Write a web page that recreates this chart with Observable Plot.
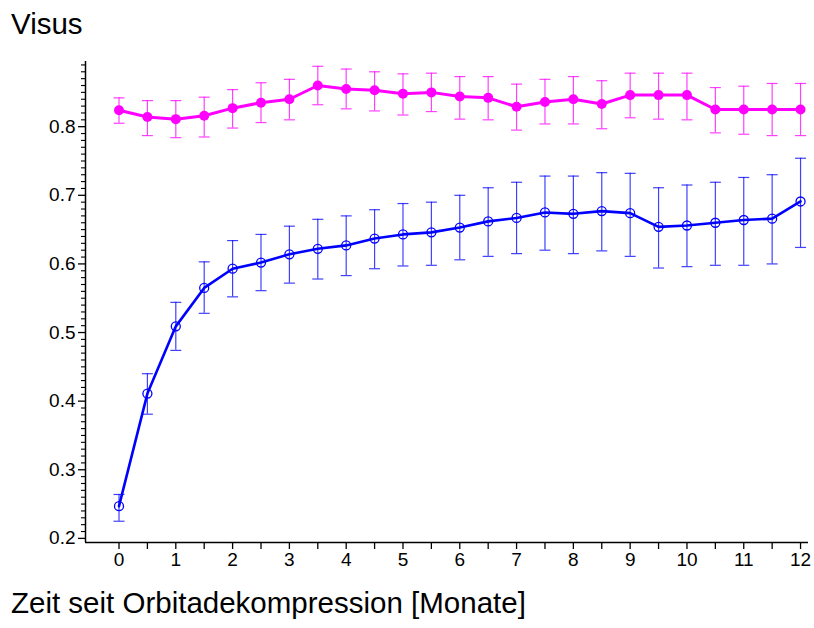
<!DOCTYPE html>
<html>
<head>
<meta charset="utf-8">
<script src="https://cdn.jsdelivr.net/npm/d3@7"></script>
<script src="https://cdn.jsdelivr.net/npm/@observablehq/plot@0.6"></script>
<style>
  html, body { margin: 0; padding: 0; background: #fff; }
  #wrap { position: relative; width: 814px; height: 628px; font-family: "Liberation Sans", Arial, Helvetica, sans-serif; }
  .ttl { position: absolute; left: 11px; font-size: 29.5px; line-height: 1; color: #000; white-space: nowrap; }
  #chart { position: absolute; left: 0; top: 50px; }
</style>
</head>
<body>
<div id="wrap">
  <div class="ttl" style="top:9px">Visus</div>
  <div id="chart"></div>
  <div class="ttl" style="top:588px">Zeit seit Orbitadekompression [Monate]</div>
</div>
<script>
// Months after decompression
const months = [0, 0.5, 1, 1.5, 2, 2.5, 3, 3.5, 4, 4.5, 5, 5.5, 6, 6.5, 7, 7.5, 8, 8.5, 9, 9.5, 10, 10.5, 11, 11.5, 12];

// Upper series (magenta, filled dots): mean with lower/upper error bound
const pinkMean = [0.824, 0.814, 0.811, 0.816, 0.827, 0.835, 0.840, 0.860, 0.855, 0.853, 0.848, 0.850, 0.844, 0.842, 0.829, 0.836, 0.840, 0.833, 0.846, 0.846, 0.846, 0.825, 0.825, 0.825, 0.825];
const pinkHi   = [0.842, 0.838, 0.838, 0.843, 0.854, 0.864, 0.869, 0.888, 0.884, 0.880, 0.877, 0.878, 0.873, 0.873, 0.862, 0.869, 0.873, 0.867, 0.878, 0.878, 0.878, 0.857, 0.859, 0.863, 0.863];
const pinkLo   = [0.805, 0.787, 0.784, 0.785, 0.798, 0.806, 0.810, 0.832, 0.826, 0.823, 0.817, 0.822, 0.811, 0.810, 0.795, 0.804, 0.804, 0.797, 0.813, 0.811, 0.810, 0.791, 0.789, 0.787, 0.787];

// Lower series (blue, open circles)
const blueMean = [0.247, 0.411, 0.509, 0.565, 0.593, 0.602, 0.614, 0.622, 0.627, 0.637, 0.643, 0.646, 0.653, 0.662, 0.667, 0.675, 0.673, 0.677, 0.674, 0.654, 0.656, 0.660, 0.664, 0.666, 0.691];
const blueHi   = [0.264, 0.440, 0.544, 0.603, 0.634, 0.643, 0.655, 0.665, 0.670, 0.679, 0.688, 0.690, 0.700, 0.711, 0.719, 0.728, 0.728, 0.733, 0.732, 0.711, 0.715, 0.719, 0.726, 0.730, 0.754];
const blueLo   = [0.225, 0.381, 0.474, 0.528, 0.552, 0.561, 0.572, 0.578, 0.583, 0.593, 0.597, 0.598, 0.606, 0.611, 0.615, 0.620, 0.615, 0.619, 0.611, 0.594, 0.596, 0.598, 0.598, 0.600, 0.624];

// Axis ticks
const xTicks = [0, 1, 2, 3, 4, 5, 6, 7, 8, 9, 10, 11, 12];
const xMinorTicks = [0.5, 1.5, 2.5, 3.5, 4.5, 5.5, 6.5, 7.5, 8.5, 9.5, 10.5, 11.5];
const yTicks = [0.2, 0.3, 0.4, 0.5, 0.6, 0.7, 0.8];

const xDomain = [-0.59, 12.14];
const yDomain = [0.194, 0.895];
const yMinorTicks = d3.range(20, 90).map(i => i / 100).filter(v => !yTicks.some(t => Math.abs(t - v) < 1e-9));

const pink = months.map((m, i) => ({month: m, mean: pinkMean[i], lo: pinkLo[i], hi: pinkHi[i]}));
const blue = months.map((m, i) => ({month: m, mean: blueMean[i], lo: blueLo[i], hi: blueHi[i]}));

// Short horizontal stroke used as an error-bar cap
const cap = {draw(ctx) { ctx.moveTo(-5.5, 0); ctx.lineTo(5.5, 0); }};

function errorBars(data, color) {
  return [
    Plot.ruleX(data, {x: "month", y1: "lo", y2: "hi", stroke: color, strokeWidth: 1.2, strokeOpacity: 0.75}),
    Plot.dot(data, {x: "month", y: "hi", symbol: cap, r: 3, fill: "none", stroke: color, strokeWidth: 1.2, strokeOpacity: 0.75}),
    Plot.dot(data, {x: "month", y: "lo", symbol: cap, r: 3, fill: "none", stroke: color, strokeWidth: 1.2, strokeOpacity: 0.75})
  ];
}

const chart = Plot.plot({
  width: 814,
  height: 525,
  marginLeft: 85,
  marginRight: 6,
  marginTop: 11,
  marginBottom: 33,
  x: {domain: xDomain, label: null},
  y: {domain: yDomain, label: null},
  style: {fontFamily: "'Liberation Sans', Arial, Helvetica, sans-serif", fontSize: "19px", color: "#000", background: "#fff", overflow: "visible"},
  marks: [
    Plot.axisX({ticks: xTicks, tickSize: 7, tickPadding: 3, tickFormat: d => String(d), strokeWidth: 1.3, label: null}),
    Plot.axisX({ticks: xMinorTicks, tickSize: 7, tickFormat: () => "", strokeWidth: 1.3, label: null}),
    Plot.axisY({ticks: yTicks, tickSize: 7, tickPadding: 3, tickFormat: d3.format(".1f"), strokeWidth: 1.3, label: null}),
    Plot.axisY({ticks: yMinorTicks, tickSize: 4, tickFormat: () => "", strokeWidth: 1.1, label: null}),
    Plot.ruleX([xDomain[0]], {stroke: "#000", strokeWidth: 1.5}),
    Plot.ruleY([yDomain[0]], {stroke: "#000", strokeWidth: 1.5}),

    ...errorBars(pink, "#ff00ff"),
    Plot.line(pink, {x: "month", y: "mean", stroke: "#ff00ff", strokeWidth: 3}),
    Plot.dot(pink, {x: "month", y: "mean", r: 5, fill: "#ff00ff", stroke: "none"}),

    ...errorBars(blue, "#0000ff"),
    Plot.line(blue, {x: "month", y: "mean", stroke: "#0000ff", strokeWidth: 2.6}),
    Plot.dot(blue, {x: "month", y: "mean", r: 4.5, fill: "none", stroke: "#0000ff", strokeWidth: 1.3})
  ]
});

document.getElementById("chart").appendChild(chart);
</script>
</body>
</html>
